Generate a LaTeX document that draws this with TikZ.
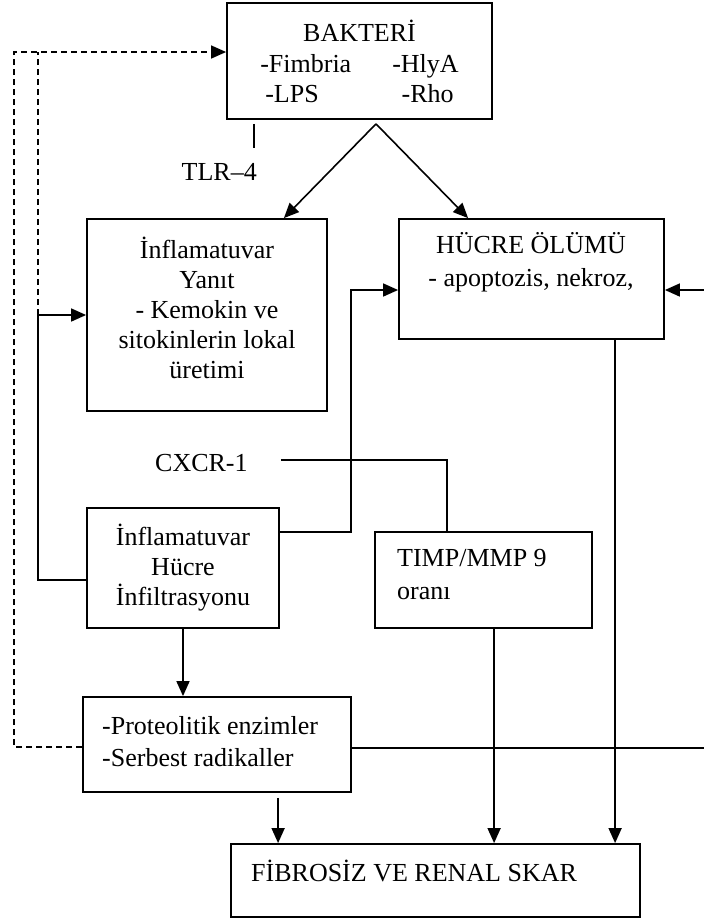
\documentclass[tikz,border=0pt]{standalone}
\usepackage{fontspec}
\setmainfont{Liberation Serif}
\usetikzlibrary{arrows.meta, positioning, calc}

\newcommand{\boxfont}{\fontsize{26}{30}\selectfont}

\begin{document}
\begin{tikzpicture}[x=1pt, y=-1pt,
  box/.style={draw, line width=1.8pt, inner sep=0pt},
  txt/.style={inner sep=0pt, font=\boxfont, align=center},
  link/.style={line width=1.6pt},
  arr/.style={link, -{Triangle[length=15pt, width=13pt]}},
  fback/.style={line width=1.4pt, dash pattern=on 6pt off 4pt}]
  \useasboundingbox (0,0) rectangle (704,922);

  % boxes and their texts
  \node[box, txt, minimum width=265pt, minimum height=116pt] (bakteri) at (359.5,61)
    {BAKTERİ\\[1pt] -Fimbria\hspace{41pt}-HlyA\\ -LPS\hspace{83pt}-Rho};
  \node[box, minimum width=240pt, minimum height=192pt] (yanit) at (207,315) {};
  \node[txt] (yanitT) at (207,308)
    {İnflamatuvar\\ Yanıt\\ - Kemokin ve\\ sitokinlerin lokal\\ üretimi};
  \node[box, minimum width=265pt, minimum height=120pt] (hucre) at (531.5,279) {};
  \node[txt] (hucreT) at (531,262) {HÜCRE ÖLÜMÜ\\[3pt] - apoptozis, nekroz,};
  \node[box, txt, minimum width=192pt, minimum height=120pt] (inf) at (183,568)
    {İnflamatuvar\\ Hücre\\ İnfiltrasyonu};
  \node[box, minimum width=217pt, minimum height=96pt] (timp) at (483.5,580) {};
  \node[txt, align=left, anchor=west] (timpT) at (397,575) {TIMP/MMP 9\\[3pt] oranı};
  \node[box, minimum width=268pt, minimum height=95pt] (prot) at (217,744.5) {};
  \node[txt, align=left, anchor=west] (protT) at (102,742)
    {-Proteolitik enzimler\\[2pt] -Serbest radikaller};
  \node[box, minimum width=409pt, minimum height=73pt] (fib) at (435.5,880.5) {};
  \node[txt, anchor=west] (fibT) at (251,871) {FİBROSİZ VE RENAL SKAR};

  % receptor labels
  \node[txt, anchor=east] (tlr) at (257,172) {TLR–4};
  \node[txt, anchor=west] (cxcr) at (155,463) {CXCR-1};

  % bacteria
  \draw[link] ([xshift=28pt,yshift=-4pt]bakteri.south west) -- ++(0,24);
  \coordinate (split) at ([xshift=16.5pt,yshift=-4pt]bakteri.south);
  \draw[arr] (split) -- ([xshift=-44pt]yanit.north east);
  \draw[arr] (split) -- ([xshift=70pt]hucre.north west);

  % feedback loops
  \draw[arr] ([yshift=-12pt]inf.west) -- ++(-48,0) |- (yanit.west);
  \coordinate (fbjoin) at ([xshift=-48pt]yanit.west);
  \coordinate (fbtop) at ([xshift=-188pt,yshift=9pt]bakteri.west);
  \draw[fback] (fbjoin) -- (fbtop);
  \draw[fback, -{Triangle[length=15pt, width=13pt]}] ([yshift=-2.5pt]prot.west)
    -| ([xshift=-212pt,yshift=9pt]bakteri.west) -- ([yshift=9pt]bakteri.west);

  % cell infiltration
  \draw[arr] ([yshift=36pt]inf.east) -- ++(71,0) |- ([yshift=-11pt]hucre.west);
  \draw[link] ([xshift=33pt,yshift=3pt]cxcr.east) -| ([xshift=73pt]timp.north west);
  \draw[arr] (inf.south) -- (inf.south |- prot.north);

  % towards fibrosis
  \coordinate (pOut) at ([xshift=196pt,yshift=-5pt]prot.south west);
  \coordinate (tOut) at ([xshift=120pt]timp.south west);
  \coordinate (hOut) at ([xshift=217pt]hucre.south west);
  \foreach \c in {pOut,tOut,hOut}
    \draw[arr] (\c) -- (\c |- fib.north);

  % right edge
  \coordinate (edgeA) at (704,290);
  \coordinate (edgeB) at (704,748);
  \draw[arr] (edgeA) -- ([yshift=-11pt]hucre.east);
  \draw[link] ([yshift=-3.5pt]prot.east) -- (edgeB);
\end{tikzpicture}
\end{document}
